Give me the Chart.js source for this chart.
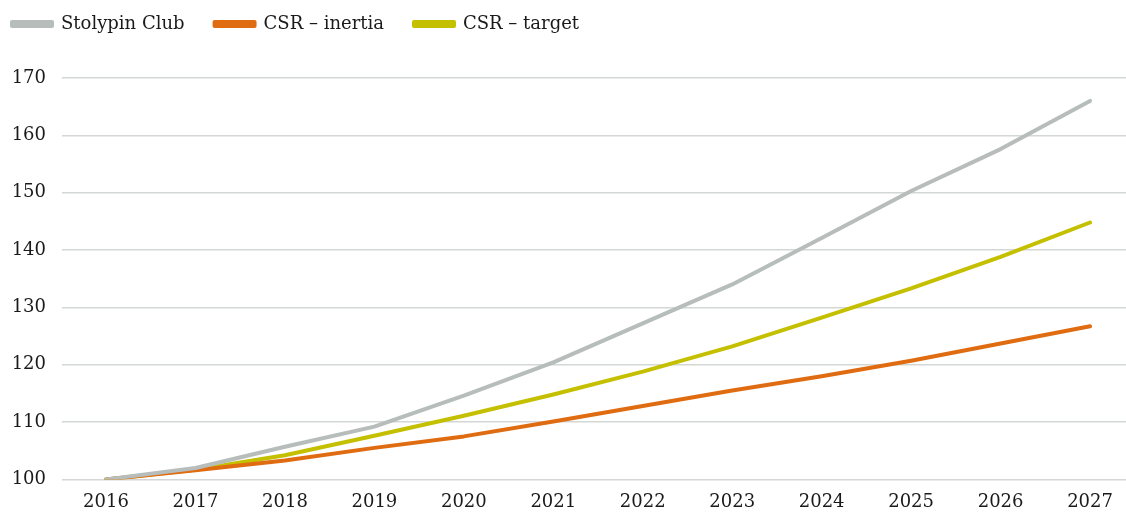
<!DOCTYPE html>
<html>
<head>
<meta charset="utf-8">
<script src="https://cdn.jsdelivr.net/npm/chart.js@4"></script>
<style>
  html, body { margin: 0; padding: 0; background: #fff; }
  #wrap { width: 1126px; height: 513px; }
</style>
</head>
<body>
<div id="wrap"><canvas id="chart" width="1126" height="513"></canvas></div>
<script>
const years = [2016, 2017, 2018, 2019, 2020, 2021, 2022, 2023, 2024, 2025, 2026, 2027];
const stolypinClub = [100, 102.0, 105.7, 109.2, 114.6, 120.4, 127.2, 134.0, 142.1, 150.3, 157.6, 166.0];
const csrInertia = [100, 101.6, 103.3, 105.5, 107.5, 110.1, 112.8, 115.5, 118.0, 120.7, 123.7, 126.7];
const csrTarget = [100, 101.7, 104.2, 107.6, 111.1, 114.8, 118.8, 123.2, 128.2, 133.3, 138.8, 144.8];
const yTicks = [100, 110, 120, 130, 140, 150, 160, 170];

const toPoints = (vals) => vals.map((v, i) => ({ x: years[i], y: v }));

const font = { family: 'DejaVu Serif', size: 18 };

// first dataset is drawn on top
const series = [
  { label: 'Stolypin Club', data: stolypinClub, color: '#b6bdbb' },
  { label: 'CSR – inertia', data: csrInertia, color: '#e06c12' },
  { label: 'CSR – target', data: csrTarget, color: '#c4c000' },
];

// extra room below the legend
const legendSpace = {
  id: 'legendSpace',
  beforeInit(chart) {
    const fit = chart.legend.fit;
    chart.legend.fit = function () {
      fit.bind(chart.legend)();
      this.height += 35;
    };
  },
};

new Chart(document.getElementById('chart').getContext('2d'), {
  type: 'line',
  data: {
    datasets: series.map((s) => ({
      label: s.label,
      data: toPoints(s.data),
      borderColor: s.color,
      backgroundColor: s.color,
      borderWidth: 4,
      borderCapStyle: 'round',
      borderJoinStyle: 'round',
      pointRadius: 0,
      tension: 0,
    })),
  },
  options: {
    responsive: false,
    animation: false,
    layout: { padding: { left: -18, right: 0, top: -15, bottom: -12 } },
    plugins: {
      legend: {
        position: 'top',
        align: 'start',
        labels: {
          font,
          color: '#1a1a1a',
          boxWidth: 40,
          boxHeight: 4,
          padding: 30,
        },
      },
      tooltip: { enabled: false },
    },
    scales: {
      x: {
        type: 'linear',
        min: 2015.508,
        max: 2027.402,
        afterBuildTicks: (axis) => { axis.ticks = years.map((y) => ({ value: y })); },
        grid: { display: false, drawTicks: false },
        border: { display: false },
        ticks: {
          font,
          color: '#1a1a1a',
          padding: 12,
          maxRotation: 0,
          callback: (v) => String(v),
        },
      },
      y: {
        min: 100,
        max: 170,
        afterBuildTicks: (axis) => { axis.ticks = yTicks.map((v) => ({ value: v })); },
        afterFit: (axis) => { axis.width = 80; },
        grid: { color: '#d3d7d6', lineWidth: 1.5, drawTicks: false },
        border: { display: false },
        ticks: {
          font,
          color: '#1a1a1a',
          padding: 16,
        },
      },
    },
  },
  plugins: [legendSpace],
});
</script>
</body>
</html>
